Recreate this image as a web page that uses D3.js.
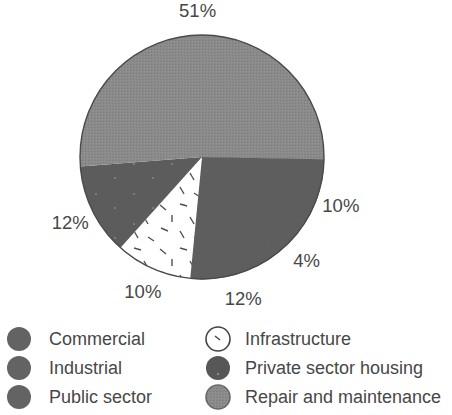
<!DOCTYPE html>
<html>
<head>
<meta charset="utf-8">
<script src="https://cdn.jsdelivr.net/npm/d3@7"></script>
<style>
  html, body { margin: 0; padding: 0; background: #fff; }
  svg { display: block; }
  text { font-family: "Liberation Sans", Arial, sans-serif; fill: #474747; }
</style>
</head>
<body>
<svg id="chart" width="452" height="415"></svg>
<script>
// Sector shares of construction output (percent), clockwise from 3 o'clock
const categories = ["Commercial", "Industrial", "Public sector", "Infrastructure", "Private sector housing", "Repair and maintenance"];
const shares = [10, 4, 12, 10, 12, 51];
const shareLabels = ["10%", "4%", "12%", "10%", "12%", "51%"];

// Legend layout: two columns, three rows
const legendLeft = ["Commercial", "Industrial", "Public sector"];
const legendRight = ["Infrastructure", "Private sector housing", "Repair and maintenance"];

const svg = d3.select("#chart");
const defs = svg.append("defs");

// Fine stipple for repair and maintenance
const stip = defs.append("pattern").attr("id", "stipple")
  .attr("patternUnits", "userSpaceOnUse").attr("width", 3).attr("height", 3);
stip.append("rect").attr("width", 3).attr("height", 3).attr("fill", "#8a8a8a");
stip.append("rect").attr("width", 1).attr("height", 1).attr("fill", "#7c7c7c");
stip.append("rect").attr("x", 2).attr("y", 1).attr("width", 1).attr("height", 1).attr("fill", "#959595");

// Sparse pale flecks for private sector housing
const fleck = defs.append("pattern").attr("id", "fleck")
  .attr("patternUnits", "userSpaceOnUse").attr("width", 38).attr("height", 30);
fleck.append("rect").attr("width", 38).attr("height", 30).attr("fill", "#5c5c5c");
fleck.append("circle").attr("cx", 8).attr("cy", 7).attr("r", 1).attr("fill", "#858585");
fleck.append("circle").attr("cx", 27).attr("cy", 21).attr("r", 1).attr("fill", "#858585");

// Scattered dashes for infrastructure
const dash = defs.append("pattern").attr("id", "dashes")
  .attr("patternUnits", "userSpaceOnUse").attr("width", 46).attr("height", 44);
dash.append("rect").attr("width", 46).attr("height", 44).attr("fill", "#ffffff");
const dashSegs = [[4,4,10,9],[24,3,31,5],[16,14,16,21],[34,16,38,23],[5,27,12,30],[24,30,28,37],[38,36,44,40]];
dash.selectAll("line").data(dashSegs).join("line")
  .attr("x1", d => d[0]).attr("y1", d => d[1]).attr("x2", d => d[2]).attr("y2", d => d[3])
  .attr("stroke", "#505050").attr("stroke-width", 1.4);

const fills = ["#5e5e5e", "#5e5e5e", "#5e5e5e", "url(#dashes)", "url(#fleck)", "url(#stipple)"];
const legendFills = {
  "Commercial": "#636363",
  "Industrial": "#636363",
  "Public sector": "#636363",
  "Infrastructure": "#ffffff",
  "Private sector housing": "#575757",
  "Repair and maintenance": "url(#stipple)"
};

const cx = 202, cy = 157, r = 122, labelR = 147;
const start = 91 * Math.PI / 180;

const pie = d3.pie().sort(null).value(d => d)
  .startAngle(start).endAngle(start + 2 * Math.PI);
const arcs = pie(shares);
const arc = d3.arc().innerRadius(0).outerRadius(r);
const labelArc = d3.arc().innerRadius(labelR).outerRadius(labelR);

const g = svg.append("g").attr("transform", `translate(${cx},${cy})`);
g.selectAll("path.slice").data(arcs).join("path")
  .attr("class", "slice")
  .attr("d", arc)
  .attr("fill", (d, i) => fills[i])
  // solid slices share one tone, so stroke them in it to hide the seams
  .attr("stroke", (d, i) => fills[i].startsWith("#") ? fills[i] : "none")
  .attr("stroke-width", 1);

// outer rim
g.append("circle").attr("r", r).attr("fill", "none")
  .attr("stroke", "#4a4a4a").attr("stroke-width", 1.4);

g.selectAll("text.pct").data(arcs).join("text")
  .attr("class", "pct")
  .attr("transform", d => `translate(${labelArc.centroid(d)})`)
  .attr("text-anchor", "middle")
  .attr("dominant-baseline", "central")
  .style("font-size", "18.5px")
  .text((d, i) => shareLabels[i]);

// Legend
const rowY = d3.scalePoint().domain([0, 1, 2]).range([339, 397]);
function legendColumn(items, markerX, textX) {
  const lg = svg.append("g");
  const rows = lg.selectAll("g").data(items).join("g")
    .attr("transform", (d, i) => `translate(0,${rowY(i)})`);
  rows.append("circle").attr("cx", markerX).attr("r", 12)
    .attr("fill", d => legendFills[d])
    .attr("stroke", d => d === "Infrastructure" ? "#444" : (d === "Repair and maintenance" ? "#6a6a6a" : "none"))
    .attr("stroke-width", 1.6);
  rows.filter(d => d === "Infrastructure").append("line")
    .attr("x1", markerX - 3).attr("y1", -3).attr("x2", markerX + 2).attr("y2", 1)
    .attr("stroke", "#444").attr("stroke-width", 1.5);
  rows.filter(d => d === "Private sector housing").append("circle")
    .attr("cx", markerX).attr("cy", 6).attr("r", 1.2).attr("fill", "#8a8a8a");
  rows.append("text").attr("x", textX).attr("dominant-baseline", "central")
    .style("font-size", "18px")
    .text(d => d);
}
legendColumn(legendLeft, 19, 49);
legendColumn(legendRight, 218, 245);
</script>
</body>
</html>
